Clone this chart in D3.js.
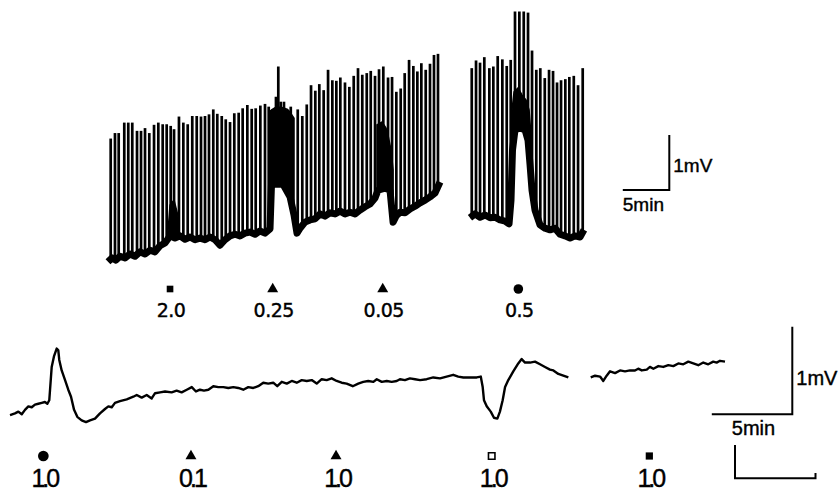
<!DOCTYPE html>
<html>
<head>
<meta charset="utf-8">
<script src="https://cdn.jsdelivr.net/npm/d3@7"></script>
<style>
  body { margin: 0; background: #fff; }
  svg { display: block; }
  text { font-family: "Liberation Sans", Arial, Helvetica, sans-serif; fill: #000; stroke: #000; stroke-width: 0.4px; }
</style>
</head>
<body>
<svg id="chart"></svg>
<script>
// ---- upper record: time in min, potential in mV ----
// spike peaks [t, mV]
const upperSpikes = [
  [0.29,2.39],[0.75,2.49],[1.15,2.49],[1.75,2.68],[2.18,2.68],[2.61,2.68],[3.12,2.53],[3.55,2.53],
  [3.98,2.58],[4.44,2.49],[4.95,2.64],[5.41,2.68],[5.88,2.65],[6.31,2.65],[6.74,2.62],[7.10,2.56],
  [7.63,2.79],[8.10,2.68],[8.57,2.65],[9.06,2.80],[9.54,2.80],[10.0,2.79],[10.43,2.80],[10.86,2.83],
  [11.32,2.92],[11.75,2.84],[12.23,2.80],[12.66,2.74],[13.12,2.69],[13.58,2.85],[14.05,2.86],[14.48,2.94],
  [14.98,3.00],[15.45,2.93],[15.88,2.94],[16.38,2.99],[16.88,3.02],[17.28,2.97],[17.55,2.91],
  [18.06,3.15],[18.31,3.70],[18.57,3.06],[18.92,3.06],[19.65,2.97],
  [20.40,2.92],[20.89,2.80],[21.37,3.01],[21.83,3.36],[22.29,3.26],[22.72,3.38],[23.19,3.27],[23.66,3.64],
  [24.12,3.45],[24.55,3.44],[24.98,3.50],[25.48,3.41],[25.95,3.33],[26.42,3.53],[26.88,3.67],[27.34,3.55],
  [27.82,3.58],[28.25,3.62],[28.71,3.53],[29.14,3.65],[29.60,3.70],[30.11,3.50],[30.54,3.51],[31.0,3.24],
  [31.47,3.30],[31.90,3.58],[32.37,3.82],[32.83,3.71],[33.26,3.61],[33.69,3.76],[34.16,3.64],[34.62,3.75],
  [35.05,3.91],[35.48,3.93],
  [39.11,3.67],[39.57,3.81],[40.0,3.77],[40.46,3.87],[41.0,3.67],[41.43,3.70],[41.90,3.89],[42.40,3.83],
  [42.87,3.71],[43.30,3.82],[43.76,4.70],[44.23,4.70],[44.70,4.70],[45.16,4.68],[45.59,3.99],[46.05,3.64],
  [46.48,3.67],[46.96,3.49],[47.42,3.64],[47.85,3.62],[48.28,3.41],[48.71,3.45],[49.17,3.47],[49.60,3.51],
  [50.08,3.53],[50.54,3.36],[51.04,3.67]
];

// baseline between spikes [t, mV]
const upperBaseA = [
  [0,0.15],[0.43,0.22],[0.86,0.18],[1.29,0.25],[1.83,0.22],[2.37,0.29],[2.90,0.25],[3.44,0.33],
  [3.98,0.29],[4.52,0.36],[5.05,0.33],[5.59,0.44],[6.13,0.49],[6.67,0.62],[7.20,0.58],[7.74,0.62],
  [8.28,0.56],[8.82,0.60],[9.35,0.55],[9.89,0.58],[10.43,0.55],[10.97,0.60],[11.51,0.55],[12.04,0.45],
  [12.58,0.55],[13.12,0.62],[13.66,0.65],[14.19,0.62],[14.73,0.67],[15.27,0.69],[15.81,0.65],[16.34,0.71],
  [16.88,0.67],[17.42,0.75],[17.58,1.56],[18.82,1.56],[19.57,1.33],[20.0,1.0],[20.32,0.67],[20.65,0.76],
  [21.18,0.87],[21.72,0.91],[22.26,0.93],[22.80,1.02],[23.33,0.98],[23.87,1.04],[24.41,1.02],[24.95,1.07],
  [25.48,1.02],[26.02,1.05],[26.56,1.02],[27.10,1.09],[27.63,1.15],[28.17,1.20],[28.71,1.31],[29.03,1.45],
  [29.78,1.49],[30.32,1.45],[30.65,0.87],[30.97,0.98],[31.40,1.05],[31.94,1.04],[32.47,1.11],[33.01,1.16],
  [33.55,1.22],[34.09,1.27],[34.62,1.33],[35.16,1.40],[35.70,1.60]
];
const upperBaseB = [
  [38.92,0.95],[39.46,1.02],[40.0,0.96],[40.54,1.0],[41.08,0.95],[41.61,0.96],[42.15,0.91],[42.69,0.89],
  [43.12,0.84],[43.33,1.27],[43.49,2.18],[43.76,2.55],[44.30,2.58],[44.84,2.55],[45.16,2.36],[45.38,1.91],
  [45.59,1.45],[45.91,1.09],[46.45,0.82],[46.99,0.76],[47.53,0.73],[48.06,0.76],[48.60,0.65],[49.14,0.62],
  [49.68,0.58],[50.22,0.62],[50.75,0.60],[51.18,0.73]
];

// dense firing, drawn as filled envelopes [t, top mV, bottom mV]
const burstA = [[6.45,0.70,0.55],[6.67,1.18,0.62],[7.10,1.27,0.60],[7.50,1.00,0.60],[7.70,0.62,0.60]];
const burstB = [[17.58,2.91,1.56],[17.96,2.95,1.56],[18.49,2.96,1.56],[18.82,2.95,1.56],[19.30,2.92,1.42],[19.57,2.87,1.33],[20.0,2.76,1.0]];
const burstC = [[28.92,2.64,1.36],[29.46,2.69,1.45],[29.89,2.58,1.47],[30.11,2.45,1.47],[30.43,2.18,1.44],[30.65,1.82,1.27]];
const burstD = [[43.44,2.91,2.18],[43.66,3.24,2.51],[44.09,3.31,2.58],[44.52,3.18,2.58],[44.95,3.09,2.51],[45.27,2.91,2.27],[45.48,2.45,1.85]];

const upperDoseTimes = [6.67, 17.71, 29.54, 44.12];
const upperDoseLabels = ["2.0", "0.25", "0.05", "0.5"];
const upperDoseSymbols = ["square", "triangle", "triangle", "circle"];

// ---- lower record ----
const lowerTraceA = [
  [0,0.17],[0.31,0.19],[0.52,0.21],[0.73,0.18],[0.93,0.23],[1.14,0.27],[1.35,0.26],[1.55,0.29],[1.76,0.30],
  [1.97,0.31],[2.17,0.32],[2.32,0.30],[2.44,0.34],[2.59,0.72],[2.73,0.84],[2.90,0.93],[3.0,0.91],[3.06,0.80],
  [3.21,0.68],[3.42,0.57],[3.62,0.46],[3.79,0.38],[3.98,0.23],[4.18,0.15],[4.45,0.11],[4.72,0.09],[4.97,0.11],
  [5.28,0.13],[5.59,0.19],[5.90,0.24],[6.11,0.27],[6.32,0.26],[6.52,0.31],[6.83,0.33],[7.25,0.35],[7.66,0.38],
  [7.87,0.40],[8.18,0.37],[8.49,0.40],[8.80,0.36],[9.01,0.42],[9.32,0.43],[9.63,0.44],[10.04,0.43],[10.35,0.45],
  [10.66,0.43],[10.98,0.46],[11.29,0.49],[11.55,0.44],[11.80,0.46],[12.05,0.45],[12.32,0.46],[12.63,0.50],
  [12.94,0.49],[13.25,0.49],[13.56,0.48],[13.87,0.49],[14.18,0.48],[14.49,0.46],[14.80,0.49],[15.11,0.48],
  [15.42,0.50],[15.73,0.54],[16.04,0.53],[16.35,0.54],[16.60,0.50],[16.88,0.55],[17.19,0.53],[17.50,0.56],
  [17.81,0.54],[18.12,0.57],[18.43,0.56],[18.74,0.57],[19.05,0.53],[19.36,0.58],[19.67,0.57],[19.98,0.59],
  [20.29,0.56],[20.60,0.54],[20.91,0.53],[21.29,0.50],[21.63,0.53],[21.94,0.55],[22.25,0.56],[22.57,0.55],
  [22.78,0.58],[23.09,0.55],[23.40,0.56],[23.71,0.55],[24.02,0.56],[24.22,0.58],[24.53,0.57],[24.84,0.59],
  [25.16,0.58],[25.47,0.57],[25.88,0.58],[26.29,0.60],[26.71,0.59],[27.12,0.61],[27.53,0.63],[27.84,0.61],
  [28.16,0.60],[28.57,0.60],[28.99,0.60],[29.24,0.61],[29.36,0.49],[29.44,0.34],[29.61,0.27],[29.86,0.21],
  [30.06,0.14],[30.27,0.13],[30.43,0.21],[30.60,0.34],[30.75,0.49],[30.95,0.57],[31.26,0.67],[31.57,0.76],
  [31.78,0.81],[31.99,0.77],[32.30,0.77],[32.61,0.78],[32.92,0.75],[33.23,0.72],[33.54,0.69],[33.75,0.68],
  [34.06,0.64],[34.37,0.62],[34.68,0.60]
];
const lowerTraceB = [
  [36.07,0.60],[36.34,0.62],[36.65,0.61],[36.85,0.56],[37.06,0.62],[37.27,0.67],[37.58,0.65],[37.89,0.68],
  [38.20,0.67],[38.51,0.68],[38.82,0.68],[39.02,0.70],[39.24,0.68],[39.55,0.69],[39.75,0.72],[39.96,0.70],
  [40.27,0.73],[40.58,0.72],[40.89,0.74],[41.20,0.73],[41.51,0.76],[41.82,0.75],[42.13,0.78],[42.44,0.76],
  [42.75,0.74],[43.06,0.77],[43.37,0.75],[43.68,0.78],[43.89,0.77],[44.10,0.79],[44.41,0.78]
];

const lowerDoseTimes = [2.07, 11.24, 20.25, 29.92, 39.71];
const lowerDoseLabels = ["1.0", "0.1", "1.0", "1.0", "1.0"];
const lowerDoseSymbols = ["circle", "triangle", "triangle", "openSquare", "square"];

const width = 840, height = 491;
const svg = d3.select("#chart").attr("width", width).attr("height", height);

// scales: upper 9.3 px/min, 55 px/mV ; lower 16.1 px/min, 87.6 px/mV
const xU = d3.scaleLinear().domain([0, 51.2]).range([108, 584.2]);
const yU = d3.scaleLinear().domain([0, 5]).range([270, -5]);
const xL = d3.scaleLinear().domain([0, 50]).range([10, 815]);
const yL = d3.scaleLinear().domain([0, 1.2]).range([430, 324.9]);

const baseLine = d3.line().x(d => xU(d[0])).y(d => yU(d[1]));

// baseline value under a spike
function baseAt(t) {
  const seg = t < 37 ? upperBaseA : upperBaseB;
  const i = d3.bisector(d => d[0]).left(seg, t);
  if (i <= 0) return seg[0][1];
  if (i >= seg.length) return seg[seg.length - 1][1];
  const a = seg[i - 1], b = seg[i];
  return a[1] + (b[1] - a[1]) * (t - a[0]) / (b[0] - a[0]);
}

const upper = svg.append("g").attr("class", "upper");

// bursts
const burstArea = d3.area()
  .x(d => xU(d[0]))
  .y0(d => yU(d[2]))
  .y1(d => yU(d[1]));
upper.selectAll("path.burst")
  .data([burstA, burstB, burstC, burstD])
  .enter().append("path")
  .attr("class", "burst")
  .attr("d", burstArea)
  .attr("fill", "#000")
  .attr("stroke", "#000")
  .attr("stroke-width", 1.5);

// thick noisy baseline
upper.selectAll("path.base")
  .data([upperBaseA, upperBaseB])
  .enter().append("path")
  .attr("class", "base")
  .attr("d", baseLine)
  .attr("fill", "none")
  .attr("stroke", "#000")
  .attr("stroke-width", 7)
  .attr("stroke-linejoin", "round");

// spikes
upper.selectAll("line.spike")
  .data(upperSpikes)
  .enter().append("line")
  .attr("class", "spike")
  .attr("x1", d => xU(d[0]))
  .attr("x2", d => xU(d[0]))
  .attr("y1", d => yU(baseAt(d[0])) + 2)
  .attr("y2", d => yU(d[1]))
  .attr("stroke", "#000")
  .attr("stroke-width", 2.7);

// lower trace
const lowLine = d3.line().x(d => xL(d[0])).y(d => yL(d[1]));
svg.append("g").selectAll("path")
  .data([lowerTraceA, lowerTraceB])
  .enter().append("path")
  .attr("d", lowLine)
  .attr("fill", "none")
  .attr("stroke", "#000")
  .attr("stroke-width", 2.4)
  .attr("stroke-linejoin", "round");

// dose markers
const symbolType = {
  square: d3.symbolSquare, openSquare: d3.symbolSquare,
  triangle: d3.symbolTriangle, circle: d3.symbolCircle
};
function drawDoses(times, labels, symbols, xs, symY, textY, sizes, font, fontSize, spacing) {
  const g = svg.append("g");
  g.selectAll("path")
    .data(times)
    .enter().append("path")
    .attr("transform", d => `translate(${xs(d)},${symY})`)
    .attr("d", (d, i) => d3.symbol(symbolType[symbols[i]], sizes[symbols[i]])())
    .attr("fill", (d, i) => symbols[i] === "openSquare" ? "#fff" : "#000")
    .attr("stroke", "#000")
    .attr("stroke-width", (d, i) => symbols[i] === "openSquare" ? 1.6 : 0);
  g.selectAll("text")
    .data(times)
    .enter().append("text")
    .attr("x", d => xs(d) + 1)
    .attr("y", textY)
    .attr("text-anchor", "middle")
    .style("font-family", font)
    .attr("font-size", fontSize)
    .attr("letter-spacing", spacing)
    .text((d, i) => labels[i]);
}
drawDoses(upperDoseTimes, upperDoseLabels, upperDoseSymbols, xU, 289, 317,
  { square: 44, triangle: 52, circle: 72 }, '"DejaVu Sans", sans-serif', 19, -0.5);
drawDoses(lowerDoseTimes, lowerDoseLabels, lowerDoseSymbols, xL, 456, 487,
  { square: 52, openSquare: 42, triangle: 52, circle: 90 }, '"Liberation Sans", Arial, sans-serif', 25, -3);

// scale bars
function scaleBar(cornerX, cornerY, xs, ys, label1, label2, fs, label2dx) {
  const w = xs(5) - xs(0), h = ys(0) - ys(1);
  const g = svg.append("g");
  g.append("path")
    .attr("d", `M${cornerX - w},${cornerY}H${cornerX}V${cornerY - h}`)
    .attr("fill", "none").attr("stroke", "#000").attr("stroke-width", 2);
  g.append("text").attr("x", cornerX + 4).attr("y", cornerY - h * 0.33)
    .attr("font-size", fs).text(label1);
  g.append("text").attr("x", cornerX - w + label2dx).attr("y", cornerY + 21)
    .attr("font-size", fs).text(label2);
}
scaleBar(669.3, 190, xU, yU, "1mV", "5min", 19, 0);
scaleBar(792.3, 414.3, xL, yL, "1mV", "5min", 20, 20);

// stray bracket at the bottom right (another 5 min bar)
const bw = xL(5) - xL(0);
svg.append("path")
  .attr("d", `M735,445V478.3H${735 + bw}V473`)
  .attr("fill", "none").attr("stroke", "#000").attr("stroke-width", 2);
</script>
</body>
</html>
